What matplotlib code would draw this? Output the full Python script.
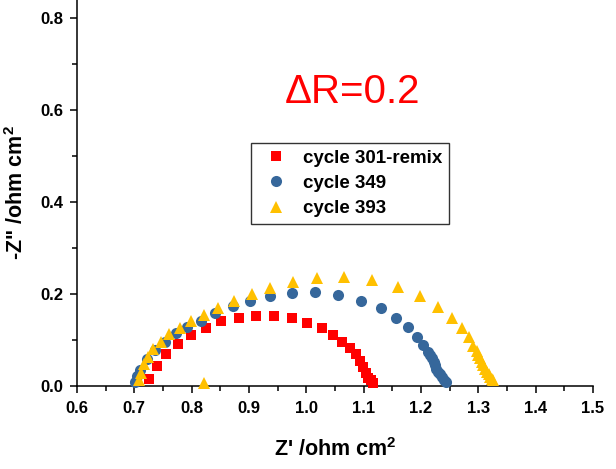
import matplotlib
matplotlib.use("Agg")
import matplotlib.pyplot as plt
from matplotlib.ticker import MultipleLocator, FormatStrFormatter

plt.rcParams["font.family"] = ["Liberation Sans", "DejaVu Sans"]
plt.rcParams["mathtext.fontset"] = "custom"
plt.rcParams["mathtext.bf"] = "Liberation Sans:bold"
plt.rcParams["mathtext.rm"] = "Liberation Sans:bold"

# Nyquist data: Z' (real) and -Z'' (imaginary), ohm cm^2
cycle301_x = [0.726, 0.740, 0.755, 0.776, 0.798, 0.825, 0.851, 0.882, 0.912, 0.944,
              0.975, 1.001, 1.028, 1.047, 1.063, 1.076, 1.086, 1.094, 1.099, 1.104,
              1.108, 1.112, 1.116]
cycle301_y = [0.015, 0.043, 0.070, 0.092, 0.111, 0.126, 0.141, 0.148, 0.153, 0.152,
              0.147, 0.138, 0.125, 0.110, 0.095, 0.083, 0.069, 0.055, 0.042, 0.029,
              0.017, 0.012, 0.007]

cycle349_x = [0.701, 0.705, 0.710, 0.722, 0.736, 0.753, 0.773, 0.792, 0.816, 0.841,
              0.872, 0.902, 0.937, 0.975, 1.015, 1.056, 1.095, 1.130, 1.156, 1.178,
              1.193, 1.204, 1.213, 1.216, 1.219, 1.222, 1.224, 1.227, 1.230, 1.233,
              1.236, 1.240, 1.243]
cycle349_y = [0.009, 0.022, 0.035, 0.058, 0.078, 0.096, 0.115, 0.129, 0.142, 0.159,
              0.173, 0.185, 0.196, 0.203, 0.204, 0.198, 0.185, 0.169, 0.147, 0.128,
              0.107, 0.089, 0.074, 0.067, 0.060, 0.053, 0.046, 0.038, 0.031, 0.025,
              0.019, 0.013, 0.009]

cycle393_x = [0.822, 0.709, 0.712, 0.717, 0.724, 0.733, 0.747, 0.761, 0.780, 0.799,
              0.822, 0.846, 0.873, 0.905, 0.937, 0.977, 1.019, 1.066, 1.115, 1.160,
              1.199, 1.230, 1.254, 1.271, 1.283, 1.291, 1.297, 1.300, 1.303, 1.306,
              1.309, 1.312, 1.315, 1.318, 1.320, 1.323, 1.326]
cycle393_y = [0.006, 0.012, 0.028, 0.048, 0.064, 0.080, 0.096, 0.112, 0.127, 0.141,
              0.155, 0.170, 0.185, 0.200, 0.212, 0.225, 0.234, 0.236, 0.230, 0.216,
              0.196, 0.172, 0.148, 0.125, 0.106, 0.088, 0.075, 0.067, 0.060, 0.053,
              0.046, 0.038, 0.031, 0.025, 0.020, 0.016, 0.012]

series_labels = ["cycle 301-remix", "cycle 349", "cycle 393"]
delta_label = "\u0394R=0.2"

fig = plt.figure(figsize=(6.16, 4.69), dpi=100)
ax = fig.add_axes([77 / 616, 83 / 469, (593 - 77) / 616, 386 / 469])

ax.plot(cycle301_x, cycle301_y, "s", color="#FF0000", markersize=7.4,
        markeredgewidth=0, label=series_labels[0], clip_on=False, zorder=3)
ax.plot(cycle349_x, cycle349_y, "o", color="#36679B", markersize=8.0,
        markeredgewidth=0, label=series_labels[1], clip_on=False, zorder=4)
ax.plot(cycle393_x, cycle393_y, "^", color="#FFC000", markersize=8.6,
        markeredgewidth=0, label=series_labels[2], clip_on=False, zorder=5)

ax.set_xlim(0.6, 1.5)
ax.set_ylim(0.0, 0.839)

ax.spines["top"].set_visible(False)
ax.spines["right"].set_visible(False)
for s in ("left", "bottom"):
    ax.spines[s].set_linewidth(1.1)

ax.xaxis.set_major_locator(MultipleLocator(0.1))
ax.xaxis.set_minor_locator(MultipleLocator(0.05))
ax.yaxis.set_major_locator(MultipleLocator(0.2))
ax.yaxis.set_minor_locator(MultipleLocator(0.1))
ax.xaxis.set_major_formatter(FormatStrFormatter("%.1f"))
ax.yaxis.set_major_formatter(FormatStrFormatter("%.1f"))

ax.tick_params(which="major", direction="out", length=5, width=1.1, labelsize=12, pad=5)
ax.tick_params(which="minor", direction="out", length=3.5, width=1.1)
ax.tick_params(axis="x", which="major", pad=6)
for lab in ax.get_xticklabels() + ax.get_yticklabels():
    lab.set_fontweight("bold")

ax.set_xlabel(r"Z' /ohm cm$^\mathbf{2}$", fontsize=15.5, fontweight="bold", labelpad=16)
ax.set_ylabel(r'-Z" /ohm cm$^\mathbf{2}$', fontsize=15.5, fontweight="bold", labelpad=9)

ax.text(1.081, 0.615, delta_label, color="#FF0000", fontsize=29,
        ha="center", va="baseline")

leg = ax.legend(loc="upper left", bbox_to_anchor=(251 / 616, 1 - 143 / 469),
                bbox_transform=fig.transFigure, borderaxespad=0,
                prop={"weight": "bold", "size": 13.5}, frameon=True, fancybox=False,
                framealpha=1, edgecolor="#333333", borderpad=0.35,
                handlelength=1.96, handletextpad=0.46, labelspacing=0.43,
                markerscale=1.0)
leg.get_frame().set_linewidth(1.0)

fig.savefig("out.png", dpi=100)
